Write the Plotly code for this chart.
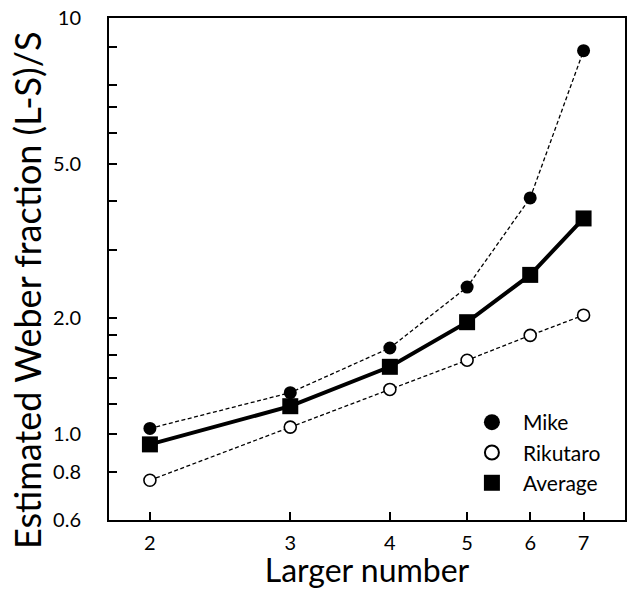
import math
import plotly.graph_objects as go

# ---- data ----
larger_number = [2, 3, 4, 5, 6, 7]
mike = [1.035, 1.28, 1.67, 2.40, 4.08, 9.8]
rikutaro = [0.76, 1.043, 1.305, 1.553, 1.80, 2.03]
average = [0.941, 1.181, 1.493, 1.947, 2.58, 3.61]

x_tick_vals = [2, 3, 4, 5, 6, 7]
x_range = [1.777, 7.89]
y_range = [0.6, 11.9]
y_tick_vals = [0.6, 0.8, 1.0, 1.2, 1.4, 1.6, 1.8, 2, 3, 4, 5, 6, 7, 8, 10, 11.9]
y_tick_text = ["0.6", "0.8", "1.0", "", "", "", "", "2.0", "", "", "5.0", "", "", "", "", "10"]
y_title = "Estimated Weber fraction (L-S)/S"
x_title = "Larger number"

FONT = "Lato"

fig = go.Figure()

# data traces (no legend)
fig.add_trace(go.Scatter(
    x=larger_number, y=average, mode="lines+markers", showlegend=False,
    line=dict(color="black", width=4),
    marker=dict(symbol="square", size=16, color="black")))
fig.add_trace(go.Scatter(
    x=larger_number, y=mike, mode="lines+markers", showlegend=False,
    line=dict(color="black", width=1.3, dash="4px,2.5px"),
    marker=dict(symbol="circle", size=13, color="black")))
fig.add_trace(go.Scatter(
    x=larger_number, y=rikutaro, mode="lines+markers", showlegend=False,
    line=dict(color="black", width=1.3, dash="4px,2.5px"),
    marker=dict(symbol="circle", size=12, color="white",
                line=dict(color="black", width=1.6))))

# legend entries (markers only)
fig.add_trace(go.Scatter(
    x=[None], y=[None], mode="markers", name="Mike",
    marker=dict(symbol="circle", size=16, color="black")))
fig.add_trace(go.Scatter(
    x=[None], y=[None], mode="markers", name="Rikutaro",
    marker=dict(symbol="circle", size=14, color="white",
                line=dict(color="black", width=2))))
fig.add_trace(go.Scatter(
    x=[None], y=[None], mode="markers", name="Average",
    marker=dict(symbol="square", size=16, color="black")))

fig.update_layout(
    width=632, height=589,
    margin=dict(l=109, r=5, t=18, b=68),
    paper_bgcolor="white", plot_bgcolor="white",
    font=dict(family=FONT, color="black"),
    legend=dict(x=0.682, y=0.235, xanchor="left", yanchor="top", itemwidth=52,
                font=dict(size=21, family=FONT), bgcolor="rgba(0,0,0,0)"),
    annotations=[dict(
        text=y_title, xref="paper", yref="paper", x=-0.159, y=0.458,
        xanchor="center", yanchor="middle", textangle=-90, showarrow=False,
        font=dict(size=36, family=FONT, color="black"))],
)
fig.update_xaxes(
    type="log", range=[math.log10(x_range[0]), math.log10(x_range[1])],
    tickmode="array", tickvals=x_tick_vals, ticktext=[str(v) for v in x_tick_vals],
    ticks="inside", ticklen=8, tickwidth=2, tickcolor="black",
    showline=True, linewidth=2, linecolor="black", mirror=True,
    showgrid=False, zeroline=False,
    tickfont=dict(size=20, family=FONT), ticklabelstandoff=4,
    title=dict(text=x_title, font=dict(size=32, family=FONT), standoff=8),
)
fig.update_yaxes(
    type="log", range=[math.log10(y_range[0]), math.log10(y_range[1])],
    tickmode="array", tickvals=y_tick_vals, ticktext=y_tick_text,
    ticks="inside", ticklen=8, tickwidth=2, tickcolor="black",
    showline=True, linewidth=2, linecolor="black", mirror=True,
    showgrid=False, zeroline=False,
    tickfont=dict(size=20, family=FONT), ticklabelstandoff=22,
)

fig.write_html("out.html")
